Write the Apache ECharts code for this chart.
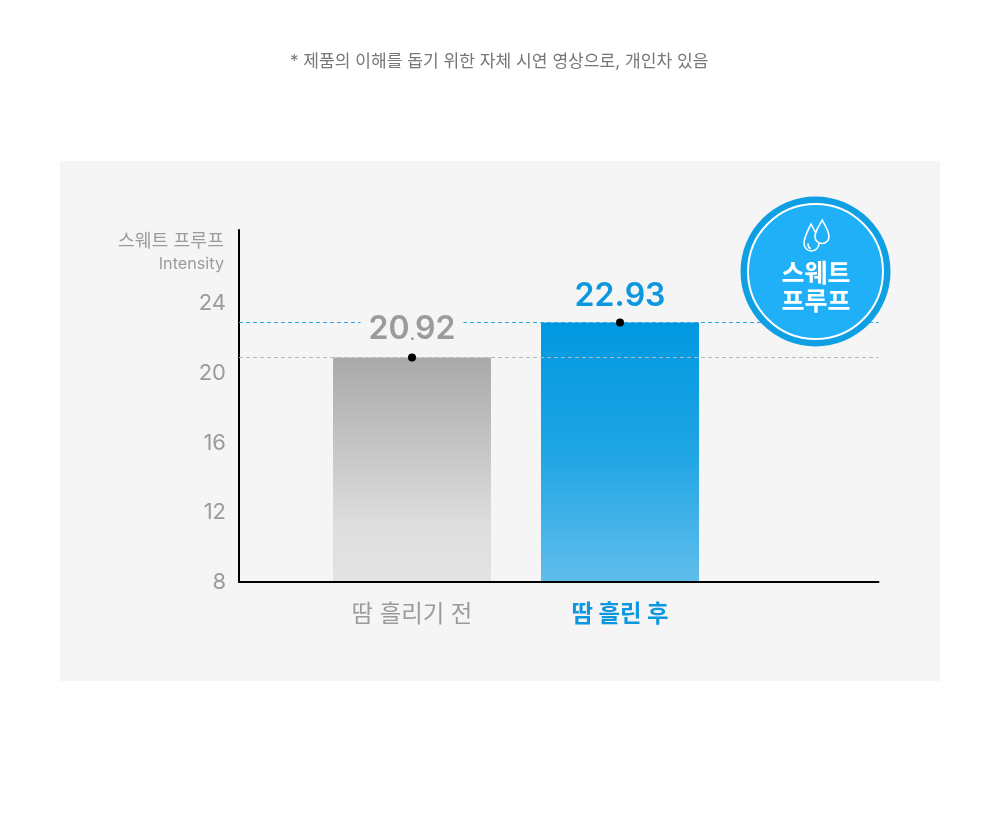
<!DOCTYPE html>
<html><head><meta charset="utf-8">
<style>html,body{margin:0;padding:0;background:#fff}#c{width:1000px;height:840px}</style>
<script src="https://cdn.jsdelivr.net/npm/echarts@6/dist/echarts.min.js"></script>
</head><body><div id="c"></div>
<script>
const categories = ['땀 흘리기 전', '땀 흘린 후'];
const values = [20.92, 22.93];
const yTicks = [8, 12, 16, 20, 24];
const noteText = '* 제품의 이해를 돕기 위한 자체 시연 영상으로, 개인차 있음';
const axisTitle = '스웨트 프루프';
const axisSubtitle = 'Intensity';
const badgeLines = ['스웨트', '프루프'];

const FONT = 'Inter, "Noto Sans CJK KR", sans-serif';
const GREY = '#9b9b9b', BLUE = '#0c97de', PANEL = '#f5f5f5', BADGE = '#1fb0f8';
const yMin = 8, yMax = 28.25;
const barColors = [
  {type:'linear',x:0,y:0,x2:0,y2:1,colorStops:[{offset:0,color:'#a9a9a9'},{offset:0.75,color:'#dedede'},{offset:1,color:'#e3e3e3'}]},
  {type:'linear',x:0,y:0,x2:0,y2:1,colorStops:[{offset:0,color:'#0098e0'},{offset:0.5,color:'#1fa5e4'},{offset:1,color:'#60bdec'}]}
];
const lineColors = ['#aebcbc', '#2fa5e0'];
const labelRich = [
  {d:{fontFamily:FONT,fontSize:32,fontWeight:600,color:GREY,lineHeight:32},
   p:{fontFamily:FONT,fontSize:16,fontWeight:700,color:GREY,lineHeight:18,verticalAlign:'bottom',padding:[0,0,2,0]}},
  {d:{fontFamily:FONT,fontSize:32,fontWeight:600,color:BLUE,lineHeight:32},
   p:{fontFamily:FONT,fontSize:32,fontWeight:600,color:BLUE,lineHeight:32}}
];

const refLines = values.map((v,i)=>({
  type:'line',xAxisIndex:1,yAxisIndex:1,data:[],z:1,silent:true,
  color:lineColors[i],
  markLine:{silent:true,symbol:'none',animation:false,label:{show:false},
    lineStyle:{color:lineColors[i],type:[4,3],width:1,opacity:1},
    data:[{yAxis:v}]}
}));

const chart = echarts.init(document.getElementById('c'), null, {renderer:'canvas'});
chart.setOption({
  backgroundColor:'#ffffff',
  animation:false,
  textStyle:{fontFamily:FONT},
  title:{text:noteText,left:285,top:48,
    textStyle:{fontFamily:FONT,fontSize:17.1,fontWeight:'normal',color:'#777777'}},
  grid:[
    {left:308,width:416,top:230,height:352},
    {left:239,width:639.5,top:230,height:352}
  ],
  xAxis:[
    {type:'category',gridIndex:0,data:categories,
      axisLine:{show:false},axisTick:{show:false},
      axisLabel:{margin:21,
        formatter:(v,i)=>`{${i===1?'b':'a'}|${v}}`,
        rich:{a:{fontFamily:FONT,fontSize:23.4,color:GREY,fontWeight:'normal'},
              b:{fontFamily:FONT,fontSize:23.4,color:BLUE,fontWeight:'bold'}}}},
    {type:'category',gridIndex:1,data:[''],z:10,
      axisLine:{show:true,lineStyle:{color:'#000',width:2}},axisTick:{show:false},axisLabel:{show:false}}
  ],
  yAxis:[
    {type:'value',gridIndex:0,min:yMin,max:yMax,show:false},
    {type:'value',gridIndex:1,min:yMin,max:yMax,
      splitLine:{show:false},axisTick:{show:false},
      axisLine:{show:true,lineStyle:{color:'#000',width:2}},
      axisLabel:{customValues:yTicks,margin:13,fontFamily:FONT,fontSize:22,color:GREY},
      name:`{t|${axisTitle}}\n{s|${axisSubtitle}}`,
      nameLocation:'end',nameGap:0,
      nameTextStyle:{align:'right',verticalAlign:'top',padding:[0,15,0,0],
        rich:{t:{fontFamily:FONT,fontSize:18.3,color:GREY,align:'right',lineHeight:23},
              s:{fontFamily:FONT,fontSize:16.2,color:GREY,align:'right',lineHeight:23}}}}
  ],
  series:[
    ...refLines,
    {type:'bar',xAxisIndex:0,yAxisIndex:0,barWidth:158,z:2,silent:true,
      data:values.map((v,i)=>({value:v,itemStyle:{color:barColors[i]}}))},
    {type:'scatter',xAxisIndex:0,yAxisIndex:0,symbolSize:8,z:5,silent:true,
      itemStyle:{color:'#000',opacity:1},
      data:values.map((v,i)=>({value:v,label:{show:true,position:'top',distance:i===0?8:6,
        formatter:p=>{const [a,b]=p.value.toFixed(2).split('.');return `{d|${a}}{p|.}{d|${b}}`;},
        rich:labelRich[i],backgroundColor:PANEL,padding:[0,8,0,8]}}))},
    {type:'custom',coordinateSystem:'none',z:22,silent:true,data:[0],
      renderItem:()=>({type:'group',children:[
        {type:'path',shape:{pathData:'M7 0 C3 8 0 13 0 19 A7.5 7.5 0 0 0 15 19 C15 13 11 8 7 0 Z M4 19 C4 22 5 24 7 24',x:804,y:224,width:15,height:27,layout:'cover'},
          style:{fill:'none',stroke:'#fff',lineWidth:1.6}},
        {type:'path',shape:{pathData:'M7 0 C3.5 7 0 11 0 16.5 A6.8 6.8 0 0 0 13.6 16.5 C13.6 11 10.5 7 7 0 Z',x:815,y:220,width:14,height:23.5,layout:'cover'},
          style:{fill:BADGE,stroke:'#fff',lineWidth:1.6}}
      ]})}
  ],
  graphic:[
    {type:'rect',z:-10,silent:true,shape:{x:60,y:161,width:880,height:520},style:{fill:PANEL}},
    {type:'circle',z:20,silent:true,shape:{cx:815.5,cy:271.5,r:75},style:{fill:'#0fa0e3'}},
    {type:'circle',z:21,silent:true,shape:{cx:815.5,cy:271.5,r:67.5},style:{fill:BADGE,stroke:'#ffffff',lineWidth:2}},
    {type:'text',z:24,silent:true,x:816,y:274,style:{text:badgeLines[0],fill:'#fff',font:`bold 25px ${FONT}`,align:'center',verticalAlign:'middle'}},
    {type:'text',z:24,silent:true,x:816,y:302,style:{text:badgeLines[1],fill:'#fff',font:`bold 25px ${FONT}`,align:'center',verticalAlign:'middle'}}
  ]
});
</script></body></html>
